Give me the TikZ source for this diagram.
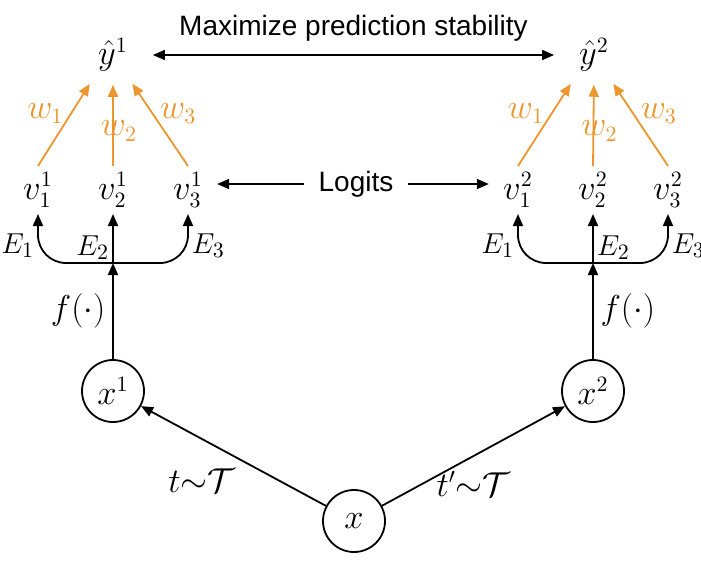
\documentclass[tikz,border=0pt]{standalone}
\usepackage{amsmath}
\usepackage{fontspec}
\setmainfont{Liberation Sans}
\usetikzlibrary{arrows.meta}
\definecolor{wcolor}{RGB}{237,150,45}
\tikzset{
	blk/.style={-{Triangle[length=6pt,width=5pt]},line width=0.9pt},
	wgt/.style={-{Triangle[length=6pt,width=5pt]},line width=0.9pt,color=wcolor,shorten >=3pt},
	inp/.style={draw,circle,line width=0.9pt,minimum size=31pt,inner sep=0pt},
	mth/.style={font=\fontsize{16}{19}\selectfont},
	elbl/.style={font=\fontsize{15}{18}\selectfont,inner sep=1.5pt},
	vnode/.style={mth,inner sep=3pt},
}

\begin{document}
\begin{tikzpicture}[x=0.5pt,y=-0.5pt,font=\fontsize{14}{17}\selectfont]
	\useasboundingbox (0,0) rectangle (701,562);
	% predictions
	\node[mth] (yA) at (113,55) {$\hat{y}^1$};
	\node[mth] (yB) at (594,55) {$\hat{y}^2$};
	\draw[blk,{Triangle[length=6pt,width=5pt]}-{Triangle[length=6pt,width=5pt]},shorten <=9pt,shorten >=9pt] (yA) --node[above=3pt]{Maximize prediction stability} (yB);
	% logits
	\node[vnode] (vA1) at (38,190) {$v_1^1$};
	\node[vnode] (vA2) at (113,190) {$v_2^1$};
	\node[vnode] (vA3) at (188,190) {$v_3^1$};
	\node[vnode] (vB1) at (518,190) {$v_1^2$};
	\node[vnode] (vB2) at (593,190) {$v_2^2$};
	\node[vnode] (vB3) at (668,190) {$v_3^2$};
	\node (logits) at (356,184) {Logits};
	\draw[blk,shorten <=4pt,shorten >=4pt] (logits.west) -- (vA3.east |- logits.west);
	\draw[blk,shorten <=4pt,shorten >=4pt] (logits.east) -- (vB1.west |- logits.east);
	% weights
	\draw[wgt] (vA1.north) --node[mth,left,pos=0.6]{$w_1$} ([xshift=-10pt]yA.south);
	\draw[wgt] (vA2.north) --node[mth,pos=0.4,xshift=3pt]{$w_2$} (yA.south);
	\draw[wgt] (vA3.north) --node[mth,right,pos=0.6]{$w_3$} ([xshift=8pt]yA.south);
	\draw[wgt] (vB1.north) --node[mth,left,pos=0.6]{$w_1$} ([xshift=-10pt]yB.south);
	\draw[wgt] (vB2.north) --node[mth,pos=0.4,xshift=3pt]{$w_2$} (yB.south);
	\draw[wgt] (vB3.north) --node[mth,right,pos=0.6]{$w_3$} ([xshift=8pt]yB.south);
	% inputs
	\node[inp,mth] (xA) at (113,391) {$x^1$};
	\node[inp,mth] (xB) at (593,391) {$x^2$};
	\node[inp,mth] (x) at (354,521) {$x$};
	\draw[blk] (x) --node[mth,below left,pos=0.45]{$t{\sim}\mathcal{T}$} (xA);
	\draw[blk] (x) --node[mth,below=4pt,pos=0.5]{$t'{\sim}\mathcal{T}$} (xB);
	% encoders
	\coordinate (forkA) at (113,263);
	\coordinate (forkB) at (593,263);
	\draw[blk] (xA) --node[mth,left]{$f(\cdot)$} (forkA);
	\draw[blk] (xB) --node[mth,right]{$f(\cdot)$} (forkB);
	\draw[blk,rounded corners=14pt] (forkA) -| node[elbl,left,pos=0.68]{$E_1$} (vA1.south);
	\draw[blk] (forkA) --node[elbl,left,pos=0.32]{$E_2$} (vA2.south);
	\draw[blk,rounded corners=14pt] (forkA) -| node[elbl,right,pos=0.68]{$E_3$} (vA3.south);
	\draw[blk,rounded corners=14pt] (forkB) -| node[elbl,left,pos=0.68]{$E_1$} (vB1.south);
	\draw[blk] (forkB) --node[elbl,right,pos=0.32]{$E_2$} (vB2.south);
	\draw[blk,rounded corners=14pt] (forkB) -| node[elbl,right,pos=0.68]{$E_3$} (vB3.south);
\end{tikzpicture}
\end{document}
